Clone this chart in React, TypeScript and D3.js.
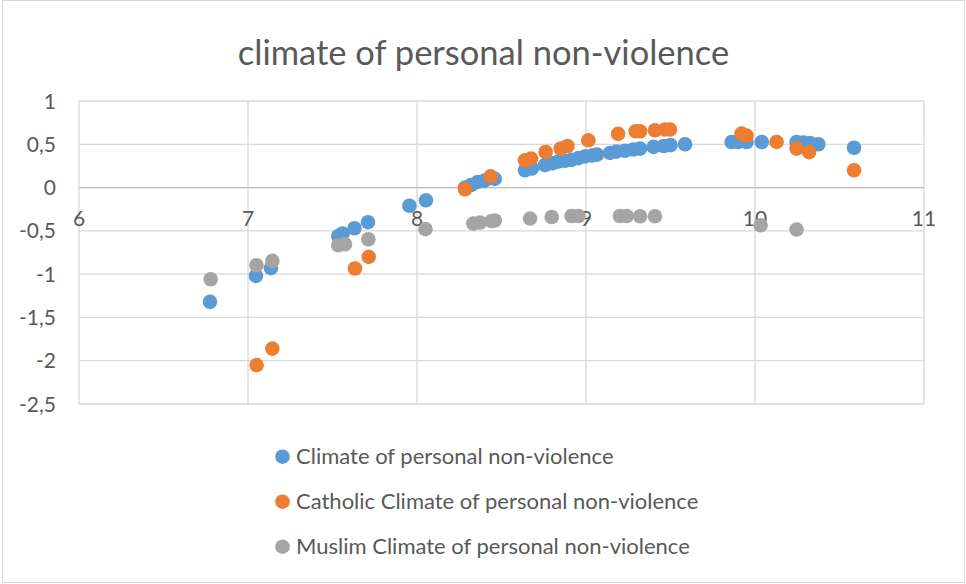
import React from "react";
import * as d3 from "d3";

const title = "climate of personal non-violence";
const seriesNames = [
  "Climate of personal non-violence",
  "Catholic Climate of personal non-violence",
  "Muslim Climate of personal non-violence",
];
const seriesColors = ["#5B9BD5", "#ED7D31", "#A5A5A5"];

const xTicks = [6, 7, 8, 9, 10, 11];
const yTicks = [1, 0.5, 0, -0.5, -1, -1.5, -2, -2.5];

const allX = [6.775, 7.047, 7.136, 7.534, 7.56, 7.63, 7.71, 7.955, 8.053, 8.284, 8.32, 8.36, 8.4, 8.46, 8.639, 8.68, 8.757, 8.8, 8.835, 8.875, 8.915, 8.955, 8.995, 9.035, 9.065, 9.142, 9.18, 9.23, 9.28, 9.32, 9.4, 9.46, 9.5, 9.586, 9.862, 9.9, 9.95, 10.04, 10.246, 10.285, 10.325, 10.375, 10.586];
const allY = [-1.32, -1.02, -0.93, -0.56, -0.53, -0.47, -0.4, -0.21, -0.147, 0.0, 0.03, 0.065, 0.08, 0.1, 0.2, 0.22, 0.26, 0.28, 0.3, 0.31, 0.32, 0.34, 0.36, 0.37, 0.38, 0.4, 0.415, 0.425, 0.44, 0.45, 0.47, 0.48, 0.49, 0.5, 0.526, 0.526, 0.526, 0.526, 0.526, 0.52, 0.515, 0.5, 0.46];

const catholicX = [7.051, 7.144, 7.633, 7.714, 8.284, 8.436, 8.639, 8.675, 8.761, 8.85, 8.89, 9.014, 9.19, 9.294, 9.32, 9.408, 9.467, 9.497, 9.92, 9.95, 10.128, 10.246, 10.32, 10.586];
const catholicY = [-2.05, -1.86, -0.935, -0.8, -0.02, 0.13, 0.315, 0.335, 0.411, 0.45, 0.48, 0.546, 0.62, 0.65, 0.65, 0.662, 0.67, 0.67, 0.624, 0.6, 0.527, 0.45, 0.41, 0.2];

const muslimX = [6.779, 7.05, 7.144, 7.534, 7.574, 7.712, 8.05, 8.333, 8.373, 8.442, 8.46, 8.669, 8.797, 8.915, 8.955, 9.201, 9.24, 9.32, 9.408, 10.033, 10.246];
const muslimY = [-1.059, -0.897, -0.847, -0.666, -0.655, -0.597, -0.48, -0.416, -0.404, -0.386, -0.38, -0.358, -0.34, -0.328, -0.328, -0.328, -0.328, -0.331, -0.331, -0.435, -0.485];

const series = [
  { xs: allX, ys: allY },
  { xs: catholicX, ys: catholicY },
  { xs: muslimX, ys: muslimY },
];

const W = 966;
const H = 584;
const FONT = "Lato, 'Open Sans', sans-serif";
const TEXT = "#595959";

export default function App() {
  const x = d3.scaleLinear().domain([6, 11]).range([79, 924]);
  const y = d3.scaleLinear().domain([-2.5, 1]).range([404, 101]);
  const fmt = (v: number) => String(v).replace(".", ",");

  return (
    <svg
      width={W}
      height={H}
      style={{ position: "absolute", left: 0, top: 0, background: "#fff" }}
      fontFamily={FONT}
    >
      <rect x={2.5} y={0.5} width={W - 4} height={H - 2} fill="#fff" stroke="#D9D9D9" />
      <text x={483.5} y={65} textAnchor="middle" fontSize={34.5} fill={TEXT}>
        {title}
      </text>
      {yTicks.map((t) => (
        <line key={"h" + t} x1={x(6)} x2={x(11)} y1={y(t)} y2={y(t)} stroke="#D9D9D9" strokeWidth={1.3} />
      ))}
      {xTicks.map((t) => (
        <line key={"v" + t} x1={x(t)} x2={x(t)} y1={y(1)} y2={y(-2.5)} stroke="#D9D9D9" strokeWidth={1.3} />
      ))}
      <line x1={x(6)} x2={x(11)} y1={y(0)} y2={y(0)} stroke="#BFBFBF" strokeWidth={1.3} />
      {yTicks.map((t) => (
        <text key={"yl" + t} x={56} y={y(t) + 7.5} textAnchor="end" fontSize={21} fill={TEXT}>
          {fmt(t)}
        </text>
      ))}
      {xTicks.map((t) => (
        <text key={"xl" + t} x={x(t)} y={226} textAnchor="middle" fontSize={21} fill={TEXT}>
          {t}
        </text>
      ))}
      {series.map((s, si) =>
        s.xs.map((xv, i) => (
          <circle key={si + "-" + i} cx={x(xv)} cy={y(s.ys[i])} r={7.3} fill={seriesColors[si]} />
        ))
      )}
      {seriesNames.map((name, i) => (
        <g key={name} transform={`translate(282.5, ${456.7 + i * 45})`}>
          <circle cx={0} cy={0} r={7.3} fill={seriesColors[i]} />
          <text x={13.5} y={7} fontSize={22} fill={TEXT}>
            {name}
          </text>
        </g>
      ))}
    </svg>
  );
}
